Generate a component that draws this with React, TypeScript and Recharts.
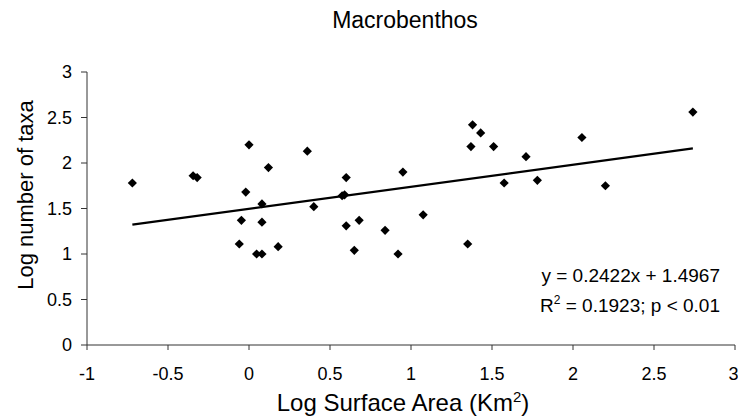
import React from 'react';
import { ScatterChart, Scatter, XAxis, YAxis, ZAxis } from 'recharts';

// log surface area (km2) and log number of taxa
const AREA = [
  -0.72, -0.345, -0.32, 0.0, -0.02, 0.12, -0.047, 0.08, 0.08, -0.06, 0.047, 0.08,
  0.18, 0.36, 0.4, 0.575, 0.59, 0.6, 0.6, 0.68, 0.65, 0.84, 0.92, 0.95, 1.075,
  1.35, 1.38, 1.43, 1.37, 1.51, 1.575, 1.71, 1.78, 2.055, 2.2, 2.74,
];
const TAXA = [
  1.78, 1.86, 1.84, 2.2, 1.68, 1.95, 1.37, 1.55, 1.35, 1.11, 1.0, 1.0,
  1.08, 2.13, 1.52, 1.64, 1.65, 1.84, 1.31, 1.37, 1.04, 1.26, 1.0, 1.9, 1.43,
  1.11, 2.42, 2.33, 2.18, 2.18, 1.78, 2.07, 1.81, 2.28, 1.75, 2.56,
];

// trend line ends (y = 0.2422x + 1.4967)
const FIT_X = [-0.72, 2.74];
const FIT_Y = [1.322, 2.16];

const X_TICKS = [-1, -0.5, 0, 0.5, 1, 1.5, 2, 2.5, 3];
const Y_TICKS = [0, 0.5, 1, 1.5, 2, 2.5, 3];

const FONT = '"Liberation Sans", Arial, sans-serif';

const points = AREA.map((x, i) => ({ x, y: TAXA[i] }));
const fit = FIT_X.map((x, i) => ({ x, y: FIT_Y[i] }));

const Diamond = (props: any) => {
  const { cx, cy } = props;
  const r = 4.6;
  return (
    <polygon
      points={`${cx},${cy - r} ${cx + r},${cy} ${cx},${cy + r} ${cx - r},${cy}`}
      fill="#000"
    />
  );
};

export default function App() {
  const tick = { fontSize: 18, fill: '#000', fontFamily: FONT };
  return (
    <div style={{ position: 'absolute', left: 0, top: 0, width: 738, height: 418, background: '#fff' }}>
      <ScatterChart width={738} height={418} margin={{ top: 72, right: 3, left: 27, bottom: 33 }}>
        <XAxis
          type="number"
          dataKey="x"
          domain={[-1, 3]}
          ticks={X_TICKS}
          tick={tick}
          tickSize={5}
          tickMargin={17}
          height={40}
          stroke="#333"
          allowDataOverflow
        />
        <YAxis
          type="number"
          dataKey="y"
          domain={[0, 3]}
          ticks={Y_TICKS}
          tick={tick}
          tickSize={6}
          tickMargin={9}
          width={60}
          stroke="#333"
          allowDataOverflow
        />
        <ZAxis range={[60, 60]} />
        <Scatter data={points} shape={Diamond} isAnimationActive={false} />
        <Scatter
          data={fit}
          line={{ stroke: '#000', strokeWidth: 2.2 }}
          shape={() => <g />}
          isAnimationActive={false}
        />
      </ScatterChart>
      <svg
        width={738}
        height={418}
        style={{ position: 'absolute', left: 0, top: 0, pointerEvents: 'none' }}
        fontFamily={FONT}
      >
        <text x={405} y={28} textAnchor="middle" fontSize={23} fill="#000">
          Macrobenthos
        </text>
        <text x={403} y={411} textAnchor="middle" fontSize={24} fill="#000">
          Log Surface Area (Km<tspan dy={-9} fontSize={15}>2</tspan>
          <tspan dy={9}>)</tspan>
        </text>
        <text
          x={0}
          y={0}
          transform="translate(33,195) rotate(-90)"
          textAnchor="middle"
          fontSize={22}
          fill="#000"
        >
          Log number of taxa
        </text>
        <text x={720} y={282} textAnchor="end" fontSize={19} fill="#000">
          y = 0.2422x + 1.4967
        </text>
        <text x={720} y={312} textAnchor="end" fontSize={19} fill="#000">
          R<tspan dy={-8} fontSize={12}>2</tspan>
          <tspan dy={8}> = 0.1923; p &lt; 0.01</tspan>
        </text>
      </svg>
    </div>
  );
}
